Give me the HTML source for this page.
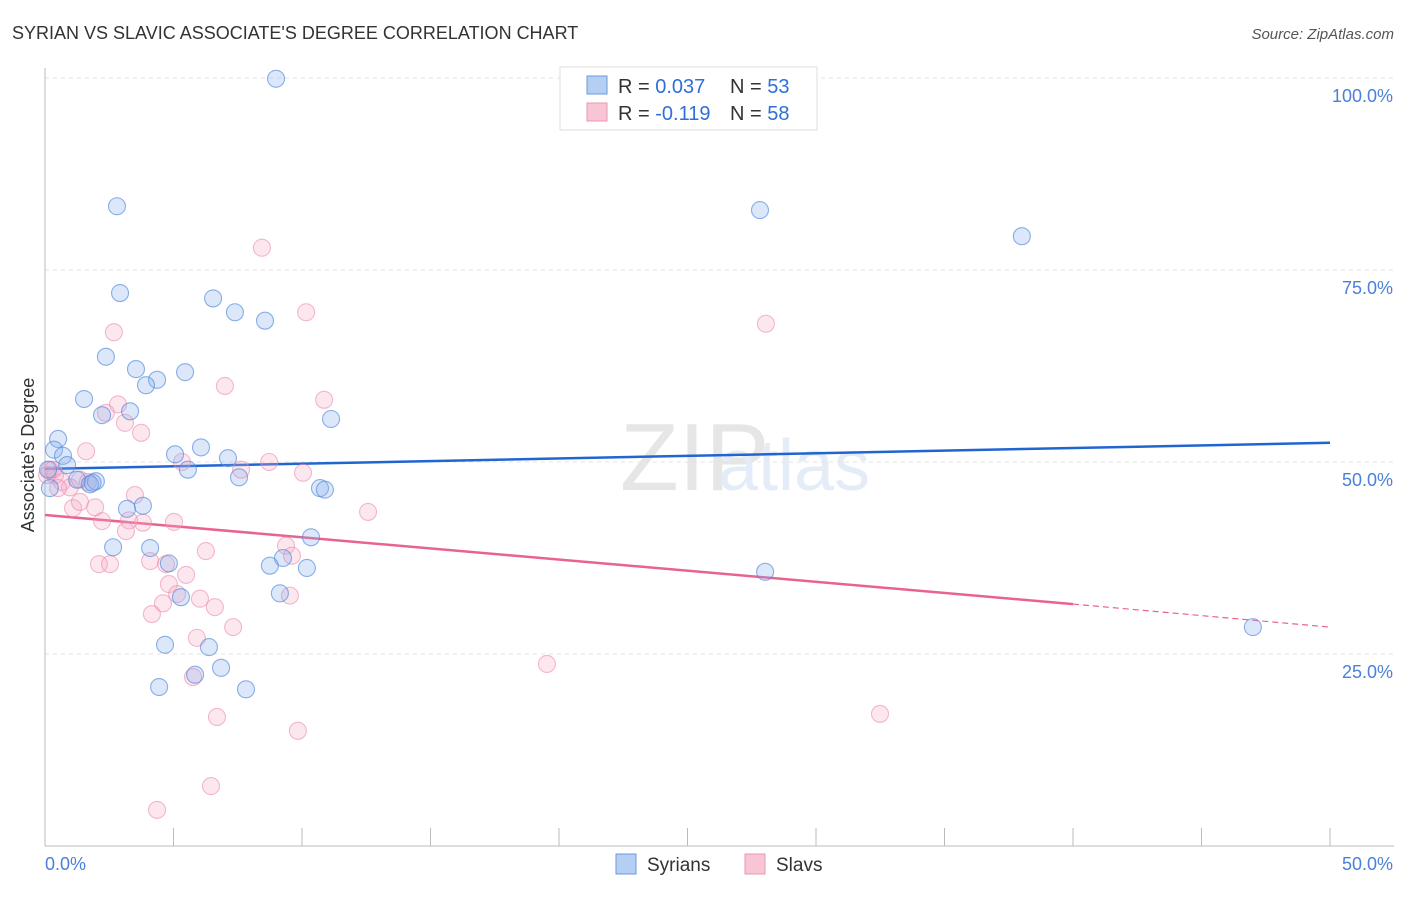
<!DOCTYPE html>
<html><head><meta charset="utf-8"><style>
body{margin:0;background:#fff;font-family:"Liberation Sans",sans-serif}
svg text{font-family:"Liberation Sans",sans-serif}
</style></head><body>
<svg id="c" width="1406" height="892">
<text x="12" y="39" font-size="18" fill="#333">SYRIAN VS SLAVIC ASSOCIATE'S DEGREE CORRELATION CHART</text>
<text x="1394" y="39" font-size="15" fill="#555" text-anchor="end" font-style="italic">Source: ZipAtlas.com</text>
<text x="620" y="490" font-size="96" fill="#e6e6e6" font-family="Liberation Serif">ZIP</text>
<text x="718" y="490" font-size="72" fill="#e4ecf8">atlas</text>
<g id="grid"></g><g id="axes"></g><g id="lines"></g><g id="pts"></g>
<text transform="translate(34,455) rotate(-90)" font-size="18" fill="#333" text-anchor="middle">Associate's Degree</text>
<g>
<rect x="560" y="67" width="257" height="63" fill="#fff" stroke="#ddd"/>
<rect x="587" y="76" width="20" height="18" fill="#b5cff3" stroke="#6b9ae0"/>
<rect x="587" y="103" width="20" height="18" fill="#f8c5d5" stroke="#ec97b2"/>
<text x="618" y="93" font-size="20" fill="#333">R = <tspan fill="#2f6fd6">0.037</tspan></text>
<text x="730" y="93" font-size="20" fill="#333">N = <tspan fill="#2f6fd6">53</tspan></text>
<text x="618" y="120" font-size="20" fill="#333">R = <tspan fill="#2f6fd6">-0.119</tspan></text>
<text x="730" y="120" font-size="20" fill="#333">N = <tspan fill="#2f6fd6">58</tspan></text>
</g>
<rect x="616" y="854" width="20" height="20" fill="#b5cff3" stroke="#6b9ae0"/>
<text x="647" y="871" font-size="19" fill="#333">Syrians</text>
<rect x="745" y="854" width="20" height="20" fill="#f8c5d5" stroke="#ec97b2"/>
<text x="776" y="871" font-size="19" fill="#333">Slavs</text>
</svg>
<script>
const blueX=[8.99,2.80,27.82,38.01,2.92,6.54,7.39,8.56,2.37,3.54,5.45,4.36,3.93,1.52,2.22,3.31,11.13,0.51,0.35,0.70,0.86,5.06,6.07,7.12,5.56,7.55,1.25,1.98,1.75,10.70,10.89,3.19,3.81,2.65,4.09,10.35,8.75,9.26,10.19,4.82,28.02,9.14,5.29,4.67,6.38,6.85,5.84,4.44,7.82,47.00,0.19,0.12,1.85];
const blueY=[99.9,83.3,82.8,79.4,72.0,71.3,69.5,68.4,63.7,62.1,61.7,60.7,60.0,58.2,56.1,56.6,55.6,53.0,51.6,50.8,49.6,51.0,51.9,50.5,49.0,48.0,47.7,47.5,47.1,46.6,46.4,43.9,44.3,38.9,38.8,40.2,36.5,37.5,36.2,36.8,35.7,32.9,32.4,26.2,25.9,23.2,22.3,20.7,20.4,28.5,46.6,49.0,47.3];
const pinkX=[8.44,2.68,10.16,28.05,7.00,10.86,2.84,2.37,3.11,3.74,1.60,8.72,5.33,7.63,10.04,0.19,0.39,0.66,0.97,1.36,3.50,1.95,1.09,1.36,2.22,3.81,5.02,3.27,12.57,3.15,6.26,9.38,9.61,2.10,2.53,4.09,4.71,5.49,4.82,9.53,5.14,4.59,6.03,6.61,4.16,7.32,5.91,19.53,5.76,6.69,32.49,9.84,6.46,4.36,0.08,0.31,0.51,1.67];
const pinkY=[77.9,66.9,69.5,68.0,59.9,58.1,57.5,56.4,55.1,53.8,51.4,50.0,50.0,49.0,48.6,49.0,48.3,47.4,46.7,47.7,45.7,44.1,44.0,44.8,42.3,42.1,42.2,42.4,43.5,41.0,38.4,39.1,37.8,36.7,36.7,37.1,36.7,35.3,34.1,32.6,32.8,31.6,32.2,31.1,30.2,28.5,27.1,23.7,22.0,16.8,17.2,15.0,7.8,4.7,48.3,49.0,46.6,47.4];
const blueTrend=[49.1,52.5];
const pinkTrend=[43.1,31.5,28.5];
const yTicks=[25,50,75,100];
const xTickLabels=["0.0%","50.0%"];
const NS="http://www.w3.org/2000/svg";
const X=v=>45+v/50*1285, Y=v=>846-v/100*768;
function mk(p,tag,a){const e=document.createElementNS(NS,tag);for(const k in a)e.setAttribute(k,a[k]);document.getElementById(p).appendChild(e);return e;}
yTicks.forEach(t=>{
 const g=mk('grid','line',{x1:45,x2:1394,y1:Y(t),y2:Y(t),stroke:'#e3e3e3','stroke-dasharray':'4,4'});
 
 
 const l=mk('grid','text',{x:1393,y:Y(t)+24,'font-size':18,fill:'#4a80d8','text-anchor':'end'});
 l.textContent=t.toFixed(1)+'%';
 
 
});
let ax=mk('axes','line',{x1:45,x2:45,y1:68,y2:846,stroke:'#bbb'});


ax=mk('axes','line',{x1:45,x2:1394,y1:846,y2:846,stroke:'#bbb'});


for(let i=0;i<=10;i++){const t=mk('axes','line',{x1:X(i*5),x2:X(i*5),y1:828,y2:846,stroke:'#bbb'});
 
 }
[[0,'start',45],[50,'end',1393]].forEach((d,i)=>{const t=mk('axes','text',{x:d[2],y:870,'font-size':18,fill:'#4a80d8','text-anchor':d[1]});t.textContent=xTickLabels[i];
 
 });
function pts(xs,ys,f,s,n){xs.forEach((x,i)=>{const c=mk('pts','circle',{cx:X(x),cy:Y(ys[i]),r:8.5,fill:f,stroke:s,'stroke-width':1.1});
 
 });}
pts(pinkX,pinkY,'rgba(246,170,196,0.28)','rgba(236,140,172,0.6)','slavs-point');
pts(blueX,blueY,'rgba(130,172,236,0.28)','rgba(80,135,220,0.65)','syrians-point');
let l=mk('lines','line',{x1:X(0),y1:Y(blueTrend[0]),x2:X(50),y2:Y(blueTrend[1]),stroke:'#2166d0','stroke-width':2.5});


l=mk('lines','line',{x1:X(0),y1:Y(pinkTrend[0]),x2:X(40),y2:Y(pinkTrend[1]),stroke:'#e8648f','stroke-width':2.5});


l=mk('lines','line',{x1:X(40),y1:Y(pinkTrend[1]),x2:X(50),y2:Y(pinkTrend[2]),stroke:'#e8648f','stroke-width':1.2,'stroke-dasharray':'6,4'});


</script>
</body></html>
